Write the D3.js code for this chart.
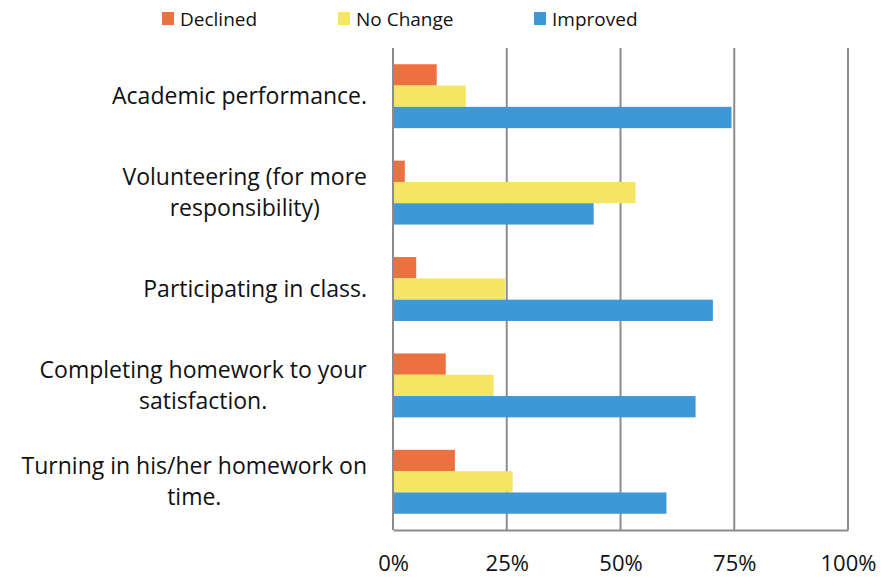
<!DOCTYPE html>
<html>
<head>
<meta charset="utf-8">
<script src="https://cdn.jsdelivr.net/npm/d3@7"></script>
<style>
    body { margin: 0; background: #fff; }
    text { font-family: "Open Sans", sans-serif; fill: #111; }
</style>
</head>
<body>
<div id="chart"></div>
<script>
// categories, top to bottom ("\n" marks the line break in the label)
var categories = [
    "Academic performance.",
    "Volunteering (for more\nresponsibility)",
    "Participating in class.",
    "Completing homework to your\nsatisfaction.",
    "Turning in his/her homework on\ntime."
];
var seriesNames = ["Declined", "No Change", "Improved"];
var seriesColors = ["#ED7040", "#F6E563", "#3E97D6"];

// values in percent, one per category
var declined = [9.6, 2.6, 5.1, 11.6, 13.6];
var noChange = [16.0, 53.3, 24.6, 22.1, 26.3];
var improved = [74.4, 44.1, 70.3, 66.5, 60.1];

var xTicks = [0, 25, 50, 75, 100];

var svgWidth = 891, svgHeight = 577;
var margin = {top: 48, right: 43, bottom: 47, left: 393};
var width = svgWidth - margin.left - margin.right;
var height = svgHeight - margin.top - margin.bottom;

var seriesValues = [declined, noChange, improved];
var rows = categories.map(function (c, i) {
    return {
        cat: c,
        vals: seriesValues.map(function (s, j) {
            return {key: seriesNames[j], value: s[i], color: seriesColors[j]};
        })
    };
});

var svg = d3.select("#chart").append("svg")
    .attr("width", svgWidth)
    .attr("height", svgHeight);

var g = svg.append("g")
    .attr("transform", "translate(" + margin.left + "," + margin.top + ")");

var x = d3.scaleLinear().domain([0, 100]).range([0, width]);
var y0 = d3.scaleBand().domain(categories).range([0, height])
    .paddingInner(0.337).paddingOuter(0.1685);
var y1 = d3.scaleBand().domain(seriesNames).range([0, y0.bandwidth()]);

// gridlines
g.selectAll("line.grid")
    .data(xTicks)
    .enter()
    .append("line")
    .attr("class", "grid")
    .attr("x1", function (d) { return x(d); })
    .attr("x2", function (d) { return x(d); })
    .attr("y1", 0)
    .attr("y2", height)
    .attr("stroke", "#8c8c8c")
    .attr("stroke-width", 2);

// bars
var groups = g.selectAll("g.cat")
    .data(rows)
    .enter()
    .append("g")
    .attr("class", "cat")
    .attr("transform", function (d) { return "translate(0," + y0(d.cat) + ")"; });

groups.selectAll("rect")
    .data(function (d) { return d.vals; })
    .enter()
    .append("rect")
    .attr("x", x(0) + 1)
    .attr("y", function (d) { return y1(d.key); })
    .attr("width", function (d) { return x(d.value) - x(0) - 1; })
    .attr("height", y1.bandwidth())
    .attr("fill", function (d) { return d.color; });

// x axis
var xAxis = g.append("g")
    .attr("transform", "translate(0," + height + ")")
    .call(d3.axisBottom(x)
        .tickValues(xTicks)
        .tickSize(0)
        .tickPadding(25)
        .tickFormat(function (d) { return d + "%"; }));
xAxis.select(".domain").attr("stroke", "#8c8c8c").attr("stroke-width", 2);
xAxis.selectAll("text")
    .style("font-family", "'Open Sans', sans-serif")
    .style("font-size", "22px")
    .attr("fill", "#111");

// y labels (centred block, right edge near the axis)
var lineH = 31;
var labelRight = -26;
groups.each(function (d) {
    var lines = d.cat.split("\n");
    var t = d3.select(this).append("text")
        .attr("text-anchor", "middle")
        .style("font-size", "23px");
    var cy = y0.bandwidth() / 2;
    var startY = cy - (lines.length - 1) * lineH / 2;
    lines.forEach(function (ln, i) {
        t.append("tspan")
            .attr("x", 0)
            .attr("y", startY + i * lineH)
            .attr("dy", "0.35em")
            .text(ln);
    });
    // widest line ends at the right edge, other lines centred on it
    var w = t.node().getBBox().width;
    t.selectAll("tspan").attr("x", labelRight - w / 2);
});

// legend
var legendX = [162, 338, 534];
var legend = svg.selectAll("g.legend")
    .data(seriesNames)
    .enter()
    .append("g")
    .attr("class", "legend")
    .attr("transform", function (d, i) { return "translate(" + legendX[i] + ",12)"; });
legend.append("rect")
    .attr("width", 12)
    .attr("height", 13)
    .attr("fill", function (d, i) { return seriesColors[i]; });
legend.append("text")
    .attr("x", 18)
    .attr("y", 7)
    .attr("dy", "0.35em")
    .style("font-size", "19px")
    .text(function (d) { return d; });
</script>
</body>
</html>
